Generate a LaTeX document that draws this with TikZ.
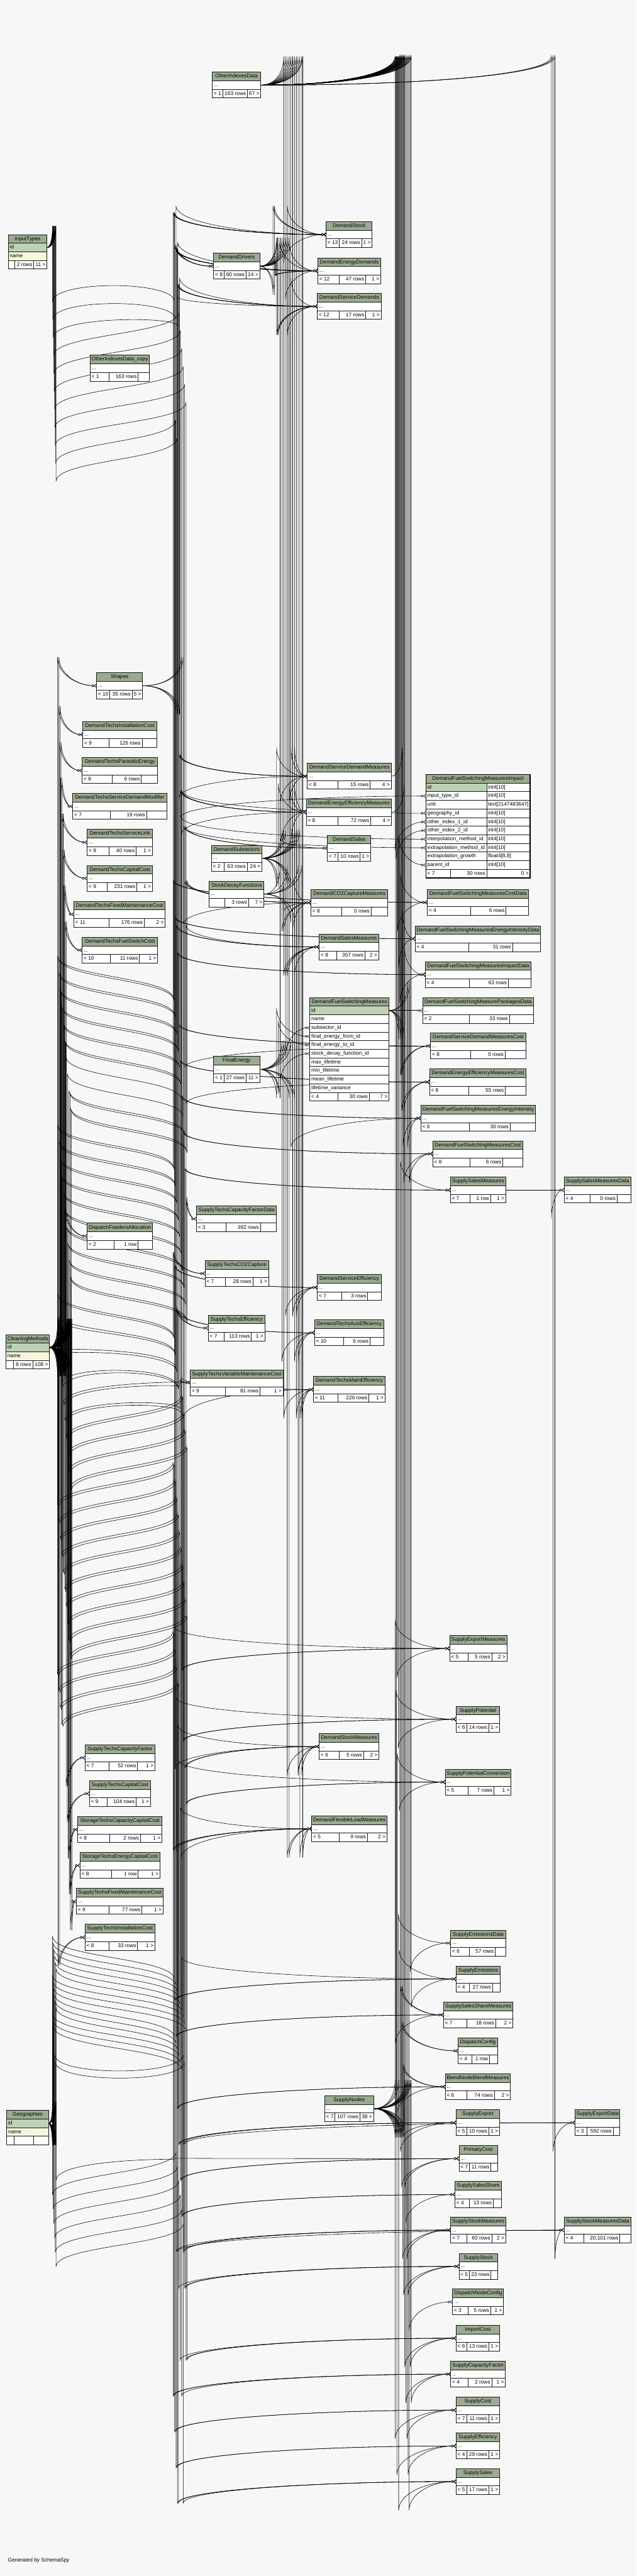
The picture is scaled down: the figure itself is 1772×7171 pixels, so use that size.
\documentclass[tikz,border=0pt]{standalone}
\usepackage{fontspec}
\setmainfont{Liberation Sans}
\usetikzlibrary{arrows.meta,calc,fit}
\pgfdeclarelayer{bg}
\pgfdeclarelayer{edges}
\pgfsetlayers{bg,edges,main}
\definecolor{hdr}{RGB}{155,171,146}
\definecolor{pk}{RGB}{190,209,184}
\definecolor{nm}{RGB}{245,247,221}
\definecolor{bgc}{RGB}{247,247,247}
\tikzset{
 txt/.style={font=\fontsize{7.3}{8}\selectfont,inner sep=0pt,outer sep=0pt,text height=5.3pt,text depth=1.4pt},
 rowbox/.style={fill=white,draw=none,inner sep=0pt,outer sep=0pt},
 border/.style={draw=black!90,line width=0.8pt},
 fkline/.style={draw=black,line width=0.5pt,-{Circle[fill=white,length=3.4pt,width=3.4pt,line width=0.5pt]Straight Barb[reversed,length=3pt,width=5pt,line width=0.5pt]}},
}
\def\tblparse#1,#2,#3,#4,#5\relax{\def\tx{#1}\def\tX{#2}\def\ty{#3}\def\ta{#4}\def\tb{#5}}
\newcommand\tbl[6]{\tblparse#2\relax
 \fill[hdr] (\tx,\ty) rectangle (\tX,\ty+24);
 \node[txt] (#1-t) at ({(\tx+\tX)/2},\ty+12) {#3};
 \node[rowbox,fit={(\tx,\ty+24)(\tX,\ty+48)}] (#1) {};
 \node[txt,anchor=west] (#1-d) at (\tx+4,\ty+36) {...};
 \fill[white] (\tx,\ty+48) rectangle (\tX,\ty+72);
 \node[txt,anchor=west] (#1-l) at (\tx+4,\ty+60) {#4};
 \node[txt,anchor=east] (#1-m) at (\tb-4,\ty+60) {#5};
 \node[txt,anchor=east] (#1-r) at (\tX-4,\ty+60) {#6};
 \draw[border] (\tx,\ty) rectangle (\tX,\ty+72) (\tx,\ty+24)--(\tX,\ty+24) (\tx,\ty+48)--(\tX,\ty+48) (\ta,\ty+48)--(\ta,\ty+72) (\tb,\ty+48)--(\tb,\ty+72);}
\newcommand\foot[5]{\tblparse#2\relax
 \fill[white] (\tx,\ty) rectangle (\tX,\ty+24);
 \node[txt,anchor=west] (#1-l) at (\tx+4,\ty+12) {#3};
 \node[txt,anchor=east] (#1-m) at (\tb-4,\ty+12) {#4};
 \node[txt,anchor=east] (#1-r) at (\tX-4,\ty+12) {#5};
 \draw[border] (\ta,\ty)--(\ta,\ty+24) (\tb,\ty)--(\tb,\ty+24);}
\newcommand\drow[6]{\node[rowbox,fill=#5,fit={(#2,#4)(#3,#4+24)}] (#1) {};
 \node[txt,anchor=west] (#1-n) at (#2+4,#4+12) {#6};
 \draw[border] (#2,#4)--(#3,#4);}
\newcommand\irow[5]{\drow{#1}{1186}{1476}{#2}{#3}{#4}\node[txt,anchor=west] (#1-ty) at (1359,#2+12) {#5};}
\newcommand\frow[4]{\drow{#1}{863}{1083}{#2}{#3}{#4}}
% one-channel connector: #1 channel x, #2 parent, #3 child
\newcommand\fk[3]{%
\draw[fkline] let \p1=(#2.east), \p2=(#3.west), \n1={(\y1>\y2)-(\y1<\y2)}, \n2={min(40,abs(\y1-\y2))} in
 (#2.east) .. controls ($(#2.east)!0.6!(#1,0 |- #2.east)$) and ($(#1,0 |- #2.east)+(0,{0.4*(\n1)*(\n2)})$) .. ($(#1,0 |- #2.east)+(0,{(\n1)*(\n2)})$)
 -- ($(#1,0 |- #3.west)-(0,{(\n1)*(\n2)})$)
 .. controls ($(#1,0 |- #3.west)-(0,{0.4*(\n1)*(\n2)})$) and ($(#3.west)!0.5!(#1,0 |- #3.west)$) .. (#3.west);}
\newcommand\fkk[3]{\fk{#1}{#2}{#3}\fk{#1+4}{#2}{#3}}
% two-channel connector: #1 first channel x, #2 crossing y, #3 second channel x, #4 parent, #5 child
\newcommand\fkw[5]{%
\draw[fkline] let \p1=(#4.east), \p2=(#5.west), \p3=(0,#2), \n1={(\y1>\y3)-(\y1<\y3)}, \n2={min(30,abs(\y1-\y3))}, \n3={(\y3>\y2)-(\y3<\y2)}, \n4={min(30,abs(\y3-\y2))} in
 (#4.east) .. controls ($(#4.east)!0.6!(#1,0 |- #4.east)$) and ($(#1,0 |- #4.east)+(0,{0.4*(\n1)*(\n2)})$) .. ($(#1,0 |- #4.east)+(0,{(\n1)*(\n2)})$)
 -- ($(#1,#2)-(0,{(\n1)*(\n2)})$)
 .. controls (#1,#2) and (#3,#2) .. ($(#3,#2)+(0,{(\n3)*(\n4)})$)
 -- ($(#3,0 |- #5.west)-(0,{(\n3)*(\n4)})$)
 .. controls ($(#3,0 |- #5.west)-(0,{0.4*(\n3)*(\n4)})$) and ($(#5.west)!0.5!(#3,0 |- #5.west)$) .. (#5.west);}
\newcommand\fkwk[5]{\fkw{#1}{#2}{#3}{#4}{#5}\fkw{#1+3}{#2+6}{#3+3}{#4}{#5}}
\begin{document}
\begin{tikzpicture}[x=0.5pt,y=-0.5pt]
\begin{pgfonlayer}{bg}
\fill[bgc] (0,0) rectangle (1772,7171);
\end{pgfonlayer}
\useasboundingbox (0,0) rectangle (1772,7171);

% ---------- detailed tables ----------
\fill[hdr] (23,653) rectangle (131,677);
\node[txt] (it-t) at (77,665) {InputTypes};
\drow{it}{23}{131}{677}{pk}{id}
\drow{it-name}{23}{131}{701}{nm}{name}
\foot{itf}{23,131,725,41,94}{}{2 rows}{11 >}
\draw[border] (23,653) rectangle (131,749) (23,725)--(131,725);

\fill[hdr] (17,3715) rectangle (138,3739);
\node[txt] (cm-t) at (77.5,3727) {CleaningMethods};
\drow{cm}{17}{138}{3739}{pk}{id}
\drow{cm-name}{17}{138}{3763}{nm}{name}
\foot{cmf}{17,138,3787,37,91}{}{8 rows}{108 >}
\draw[border] (17,3715) rectangle (138,3811) (17,3787)--(138,3787);

\fill[hdr] (19,5875) rectangle (135,5899);
\node[txt] (geo-t) at (77,5887) {Geographies};
\drow{geo}{19}{135}{5899}{pk}{id}
\drow{geo-name}{19}{135}{5923}{nm}{name}
\foot{geof}{19,135,5947,39,93}{}{}{}
\draw[border] (19,5875) rectangle (135,5971) (19,5947)--(135,5947);

\fill[hdr] (1186,2156) rectangle (1476,2180);
\node[txt] (dfsmi-t) at (1331,2168) {DemandFuelSwitchingMeasuresImpact};
\node[rowbox,fit={(1186,2180)(1476,2204)}] (dfsmi) {};
\fill[pk] (1186,2180) rectangle (1355,2204);
\node[txt,anchor=west] (dfsmi-n) at (1190,2192) {id};
\node[txt,anchor=west] (dfsmi-ty) at (1359,2192) {int4[10]};
\irow{dfsmi-in}{2204}{white}{input\_type\_id}{int4[10]}
\irow{dfsmi-unit}{2228}{white}{unit}{text[2147483647]}
\irow{dfsmi-geo}{2252}{white}{geography\_id}{int4[10]}
\irow{dfsmi-o1}{2276}{white}{other\_index\_1\_id}{int4[10]}
\irow{dfsmi-o2}{2300}{white}{other\_index\_2\_id}{int4[10]}
\irow{dfsmi-ip}{2324}{white}{interpolation\_method\_id}{int4[10]}
\irow{dfsmi-ep}{2348}{white}{extrapolation\_method\_id}{int4[10]}
\irow{dfsmi-eg}{2372}{white}{extrapolation\_growth}{float4[8,8]}
\irow{dfsmi-par}{2396}{white}{parent\_id}{int4[10]}
\foot{dfsmif}{1186,1476,2420,1254,1355}{< 7}{30 rows}{0 >}
\draw[border] (1186,2420)--(1476,2420) (1355,2180)--(1355,2420) (1186,2180)--(1476,2180);
\draw[draw=black,line width=1.6pt] (1186,2156) rectangle (1476,2444);

\fill[hdr] (863,2777) rectangle (1083,2801);
\node[txt] (dfsm-t) at (973,2789) {DemandFuelSwitchingMeasures};
\frow{dfsm}{2801}{pk}{id}
\frow{dfsm-name}{2825}{white}{name}
\frow{dfsm-sub}{2849}{white}{subsector\_id}
\frow{dfsm-from}{2873}{white}{final\_energy\_from\_id}
\frow{dfsm-to}{2897}{white}{final\_energy\_to\_id}
\frow{dfsm-sdf}{2921}{white}{stock\_decay\_function\_id}
\frow{dfsm-max}{2945}{white}{max\_lifetime}
\frow{dfsm-min}{2969}{white}{min\_lifetime}
\frow{dfsm-mean}{2993}{white}{mean\_lifetime}
\frow{dfsm-var}{3017}{white}{lifetime\_variance}
\foot{dfsmf}{863,1083,3041,941,1028}{< 4}{30 rows}{7 >}
\draw[border] (863,2777) rectangle (1083,3065) (863,3041)--(1083,3041);

% ---------- collapsed tables ----------
\tbl{oid}{591,726,201,620,689}{OtherIndexesData}{< 1}{163 rows}{67 >}
\tbl{dst}{908,1036,617,945,1007}{DemandStock}{< 13}{24 rows}{1 >}
\tbl{ddr}{595,723,705,624,685}{DemandDrivers}{< 8}{60 rows}{14 >}
\tbl{ded}{885,1060,718,945,1018}{DemandEnergyDemands}{< 12}{47 rows}{1 >}
\tbl{dsd}{884,1061,817,945,1018}{DemandServiceDemands}{< 12}{17 rows}{1 >}
\tbl{oidc}{251,416,989,304,385}{OtherIndexesData\_copy}{< 1}{163 rows}{}
\tbl{shp}{269,397,1873,306,368}{Shapes}{< 10}{35 rows}{5 >}
\tbl{dtic}{231,436,2009,304,396}{DemandTechsInstallationCost}{< 9}{126 rows}{}
\tbl{dtpe}{229,439,2109,313,393}{DemandTechsParasiticEnergy}{< 8}{6 rows}{}
\tbl{dtsdm}{203,464,2209,308,408}{DemandTechsServiceDemandModifier}{< 7}{19 rows}{}
\tbl{dtsl}{243,424,2309,303,379}{DemandTechsServiceLink}{< 9}{40 rows}{1 >}
\tbl{dtcc}{243,424,2409,298,381}{DemandTechsCapitalCost}{< 9}{231 rows}{1 >}
\tbl{dtfmc}{206,460,2509,303,401}{DemandTechsFixedMaintenanceCost}{< 11}{176 rows}{2 >}
\tbl{dtfsc}{229,439,2609,307,388}{DemandTechsFuelSwitchCost}{< 10}{11 rows}{1 >}
\tbl{dfa}{243,425,3405,317,385}{DispatchFeedersAllocation}{< 2}{1 row}{}
\tbl{dsdm}{856,1089,2125,941,1031}{DemandServiceDemandMeasures}{< 8}{15 rows}{4 >}
\tbl{deem}{853,1090,2225,941,1032}{DemandEnergyEfficiencyMeasures}{< 8}{72 rows}{4 >}
\tbl{dsal}{912,1032,2325,941,1003}{DemandSales}{< 7}{10 rows}{1 >}
\tbl{dsub}{589,729,2353,624,688}{DemandSubsectors}{< 2}{63 rows}{24 >}
\tbl{sdf}{582,735,2453,625,692}{StockDecayFunctions}{}{3 rows}{7 >}
\tbl{dco2}{866,1079,2477,952,1033}{DemandCO2CaptureMeasures}{< 8}{0 rows}{}
\tbl{dsm}{889,1054,2600,937,1016}{DemandSalesMeasures}{< 8}{357 rows}{2 >}
\tbl{dfsmcd}{1190,1472,2476,1311,1409}{DemandFuelSwitchingMeasuresCostData}{< 4}{6 rows}{}
\tbl{dfsmeid}{1156,1505,2577,1305,1427}{DemandFuelSwitchingMeasuresEnergyIntensityData}{< 4}{31 rows}{}
\tbl{dfsmid}{1184,1479,2677,1307,1415}{DemandFuelSwitchingMeasuresImpactData}{< 4}{63 rows}{}
\tbl{dfsmpd}{1177,1485,2777,1307,1418}{DemandFuelSwitchingMeasurePackagesData}{< 2}{33 rows}{}
\tbl{dsdmc}{1199,1464,2876,1311,1406}{DemandServiceDemandMeasuresCost}{< 8}{0 rows}{}
\tbl{deemc}{1196,1465,2976,1305,1407}{DemandEnergyEfficiencyMeasuresCost}{< 8}{55 rows}{}
\tbl{dfsmei}{1172,1491,3077,1307,1420}{DemandFuelSwitchingMeasuresEnergyIntensity}{< 6}{30 rows}{}
\tbl{dfsmc}{1205,1456,3176,1309,1400}{DemandFuelSwitchingMeasuresCost}{< 8}{6 rows}{}
\tbl{ssm}{1254,1408,3277,1308,1366}{SupplySalesMeasures}{< 7}{1 row}{1 >}
\tbl{ssmd}{1571,1757,3277,1643,1718}{SupplySalesMeasuresData}{< 4}{0 rows}{}
\tbl{fe}{595,723,2941,624,685}{FinalEnergy}{< 1}{27 rows}{11 >}
\tbl{stcfd}{547,770,3357,629,725}{SupplyTechsCapacityFactorData}{< 3}{392 rows}{}
\tbl{stco2}{571,748,3509,628,704}{SupplyTechsCO2Capture}{< 7}{28 rows}{1 >}
\tbl{steff}{580,737,3661,624,700}{SupplyTechsEfficiency}{< 7}{113 rows}{1 >}
\tbl{stvmc}{530,788,3813,628,724}{SupplyTechsVariableMaintenanceCost}{< 9}{81 rows}{1 >}
\tbl{dse}{884,1061,3548,952,1024}{DemandServiceEfficiency}{< 7}{3 rows}{}
\tbl{dtae}{876,1069,3674,956,1030}{DemandTechsAuxEfficiency}{< 10}{6 rows}{}
\tbl{dtme}{873,1072,3832,941,1027}{DemandTechsMainEfficiency}{< 11}{226 rows}{1 >}
\tbl{stcf}{237,431,4857,303,383}{SupplyTechsCapacityFactor}{< 7}{52 rows}{1 >}
\tbl{stcc}{249,419,4957,298,379}{SupplyTechsCapitalCost}{< 9}{104 rows}{1 >}
\tbl{stocc}{217,451,5057,306,391}{StorageTechsCapacityCapitalCost}{< 8}{2 rows}{1 >}
\tbl{stecc}{223,445,5157,311,385}{StorageTechsEnergyCapitalCost}{< 8}{1 row}{1 >}
\tbl{stfmc}{213,454,5257,303,395}{SupplyTechsFixedMaintenanceCost}{< 9}{77 rows}{1 >}
\tbl{stic}{237,431,5357,303,383}{SupplyTechsInstallationCost}{< 8}{33 rows}{1 >}
\tbl{sem}{1252,1411,4553,1304,1369}{SupplyExportMeasures}{< 5}{5 rows}{2 >}
\tbl{spot}{1270,1391,4750,1300,1361}{SupplyPotential}{< 6}{14 rows}{1 >}
\tbl{spc}{1240,1423,4925,1304,1375}{SupplyPotentialConversion}{< 5}{7 rows}{1 >}
\tbl{dstm}{889,1055,4826,945,1012}{DemandStockMeasures}{< 6}{5 rows}{2 >}
\tbl{dflm}{868,1077,5055,945,1023}{DemandFlexibleLoadMeasures}{< 5}{9 rows}{2 >}
\tbl{sed}{1255,1408,5373,1307,1379}{SupplyEmissionsData}{< 6}{57 rows}{}
\tbl{semi}{1270,1392,5473,1307,1371}{SupplyEmissions}{< 4}{27 rows}{}
\tbl{sssm}{1235,1428,5573,1300,1380}{SupplySalesShareMeasures}{< 7}{18 rows}{2 >}
\tbl{dc}{1276,1385,5673,1313,1363}{DispatchConfig}{< 4}{1 row}{}
\tbl{bnbm}{1240,1421,5773,1300,1376}{BlendNodeBlendMeasures}{< 6}{74 rows}{2 >}
\tbl{sn}{904,1040,5834,933,1002}{SupplyNodes}{< 7}{107 rows}{38 >}
\tbl{sexp}{1270,1391,5873,1300,1361}{SupplyExport}{< 5}{10 rows}{1 >}
\tbl{sexd}{1601,1726,5873,1634,1707}{SupplyExportData}{< 3}{592 rows}{}
\tbl{pc}{1278,1385,5973,1307,1367}{PrimaryCost}{< 7}{11 rows}{}
\tbl{sss}{1267,1396,6073,1307,1373}{SupplySalesShare}{< 4}{13 rows}{}
\tbl{sstm}{1255,1408,6172,1300,1369}{SupplyStockMeasures}{< 7}{60 rows}{2 >}
\tbl{sstmd}{1571,1757,6172,1625,1726}{SupplyStockMeasuresData}{< 4}{20,101 rows}{}
\tbl{sstk}{1278,1385,6273,1307,1367}{SupplyStock}{< 5}{23 rows}{}
\tbl{dnc}{1260,1402,6372,1304,1366}{DispatchNodeConfig}{< 3}{5 rows}{1 >}
\tbl{ic}{1270,1391,6473,1300,1361}{ImportCost}{< 6}{13 rows}{1 >}
\tbl{scf}{1255,1407,6573,1304,1369}{SupplyCapacityFactor}{< 4}{2 rows}{1 >}
\tbl{scost}{1270,1391,6673,1300,1361}{SupplyCost}{< 7}{11 rows}{1 >}
\tbl{seff}{1270,1391,6773,1300,1361}{SupplyEfficiency}{< 4}{29 rows}{1 >}
\tbl{ssal}{1270,1391,6872,1300,1361}{SupplySales}{< 5}{17 rows}{1 >}

\node[txt,anchor=west] (gen) at (22,7128) {Generated by SchemaSpy};

% ---------- connectors ----------
\begin{pgfonlayer}{edges}
% InputTypes
\fkw{146}{780}{486}{it}{dst}\fkw{147}{830}{490}{it}{ded}\fkw{148}{880}{494}{it}{dsd}
\fkw{149}{930}{498}{it}{dsdm}\fkw{150}{980}{502}{it}{dfsmi-in}\fkw{151}{1030}{506}{it}{deem}
\fkw{152}{1080}{510}{it}{dco2}\fkw{153}{1130}{514}{it}{dsdmc}\fkw{154}{1180}{518}{it}{deemc}
\fkw{155}{1230}{488}{it}{dstm}\fkw{156}{1280}{492}{it}{dflm}
% CleaningMethods -> column B
\fkk{160}{cm}{shp}\fkk{163}{cm}{dtic}\fkk{166}{cm}{dtpe}\fkk{169}{cm}{dtsdm}\fkk{172}{cm}{dtsl}\fkk{175}{cm}{dtcc}
\fkk{178}{cm}{dtfmc}\fkk{181}{cm}{dtfsc}\fkk{184}{cm}{stcf}\fkk{187}{cm}{stcc}\fkk{190}{cm}{stocc}\fkk{193}{cm}{stecc}
\fkk{196}{cm}{stfmc}\fkk{162}{cm}{stic}\fkk{180}{cm}{dfa}
% CleaningMethods -> further columns
\fkwk{160}{2720}{482}{cm}{dst}\fkwk{164}{2767}{486}{cm}{ddr}\fkwk{168}{2814}{490}{cm}{ded}
\fkwk{172}{2861}{494}{cm}{dsd}\fkwk{176}{2908}{498}{cm}{dsdm}\fkwk{180}{2955}{502}{cm}{deem}
\fkw{184}{3002}{506}{cm}{dfsmi-ip}\fkw{188}{3049}{510}{cm}{dfsmi-ep}\fkwk{192}{3096}{514}{cm}{dsal}
\fkwk{196}{3143}{518}{cm}{dco2}\fkwk{160}{3190}{482}{cm}{dfsmcd}\fkwk{164}{3237}{486}{cm}{dfsmeid}
\fkwk{168}{3284}{490}{cm}{dsm}\fkwk{172}{3331}{494}{cm}{dfsmid}\fkwk{176}{3378}{498}{cm}{dsdmc}
\fkwk{180}{3425}{502}{cm}{deemc}\fkwk{184}{3472}{506}{cm}{dfsmei}\fkwk{188}{3519}{510}{cm}{dfsmc}
\fkwk{192}{3566}{514}{cm}{ssm}\fkwk{196}{3613}{518}{cm}{stcfd}\fkwk{160}{3660}{482}{cm}{stco2}
\fkwk{164}{3707}{486}{cm}{dse}\fkwk{168}{3754}{490}{cm}{steff}\fkwk{172}{3801}{494}{cm}{dtae}
\fkwk{176}{3848}{498}{cm}{stvmc}\fkwk{180}{3895}{502}{cm}{dtme}\fkwk{184}{3942}{506}{cm}{sem}
\fkwk{188}{3989}{510}{cm}{spot}\fkwk{192}{4036}{514}{cm}{dstm}\fkwk{196}{4083}{518}{cm}{spc}
\fkwk{160}{4130}{482}{cm}{dflm}\fkwk{164}{4177}{486}{cm}{semi}\fkwk{168}{4224}{490}{cm}{sssm}
\fkwk{172}{4271}{494}{cm}{bnbm}\fkwk{176}{4318}{498}{cm}{sexp}\fkwk{180}{4365}{502}{cm}{pc}
\fkwk{184}{4412}{506}{cm}{sss}\fkwk{188}{4459}{510}{cm}{sstm}\fkwk{192}{4506}{514}{cm}{sstk}
\fkwk{196}{4553}{518}{cm}{ic}\fkwk{160}{4600}{482}{cm}{scf}\fkwk{164}{4647}{486}{cm}{scost}
\fkwk{168}{4694}{490}{cm}{seff}\fkwk{172}{4741}{494}{cm}{ssal}
% Geographies
\fkw{146}{5450}{486}{geo}{dst}\fkw{148}{5468}{490}{geo}{ddr}\fkw{150}{5486}{494}{geo}{ded}
\fkw{152}{5504}{498}{geo}{dsd}\fkw{154}{5522}{502}{geo}{dsdm}\fkw{156}{5540}{506}{geo}{deem}
\fkw{146}{5558}{510}{geo}{dfsmi-geo}\fkw{148}{5576}{514}{geo}{dco2}\fkw{150}{5594}{518}{geo}{dsm}
\fkw{152}{5612}{486}{geo}{sem}\fkw{154}{5630}{490}{geo}{spot}\fkw{156}{5648}{494}{geo}{dstm}
\fkw{146}{5666}{498}{geo}{spc}\fkw{148}{5684}{502}{geo}{dflm}\fkw{150}{5702}{506}{geo}{semi}
\fkw{152}{5780}{510}{geo}{sexp}\fkw{154}{5800}{514}{geo}{sexd}
\fkw{156}{6010}{486}{geo}{pc}\fkw{146}{6050}{490}{geo}{sstm}\fkw{148}{6090}{494}{geo}{sstmd}
\fkw{150}{6130}{498}{geo}{sstk}\fkw{152}{6170}{502}{geo}{ic}\fkw{154}{6210}{506}{geo}{scf}
\fkw{156}{6250}{510}{geo}{ssal}
% OtherIndexesData
\fk{790}{oid}{dst}\fk{795}{oid}{ded}\fk{800}{oid}{dsd}\fk{805}{oid}{dsdm}\fk{810}{oid}{deem}\fk{815}{oid}{dco2}
\fk{820}{oid}{dsm}\fk{825}{oid}{dse}\fk{830}{oid}{dtae}\fk{835}{oid}{dtme}\fk{840}{oid}{dstm}\fk{843}{oid}{dflm}
\fk{1100}{oid}{dfsmi-o1}\fk{1103}{oid}{dfsmi-o2}\fk{1106}{oid}{sem}\fk{1109}{oid}{spot}\fk{1112}{oid}{spc}
\fk{1115}{oid}{sexp}\fk{1118}{oid}{pc}\fk{1121}{oid}{sstm}\fk{1124}{oid}{sstk}\fk{1127}{oid}{ic}
\fk{1130}{oid}{scf}\fk{1133}{oid}{scost}\fk{1136}{oid}{seff}\fk{1139}{oid}{ssal}\fk{1142}{oid}{sed}
\fk{1145}{oid}{semi}\fk{1101}{oid}{sssm}\fk{1104}{oid}{bnbm}\fk{1107}{oid}{dfsmcd}\fk{1110}{oid}{dfsmeid}
\fk{1113}{oid}{dfsmid}\fk{1116}{oid}{dsdmc}\fk{1119}{oid}{deemc}\fk{1122}{oid}{dfsmei}\fk{1125}{oid}{dfsmc}
\fk{1535}{oid}{ssmd}\fk{1540}{oid}{sexd}\fk{1545}{oid}{sstmd}
% DemandDrivers
\fkk{760}{ddr}{dst}\fkk{765}{ddr}{ded}\fk{768}{ddr}{ded}\fkk{770}{ddr}{dsd}\fk{773}{ddr}{dsd}\fk{780}{ddr}{dsdm}
\fk{785}{ddr}{deem}\fk{790}{ddr}{dco2}\fk{795}{ddr}{dsm}\fk{800}{ddr}{dstm}\fk{805}{ddr}{dflm}
% DemandSubsectors
\fk{770}{dsub}{dsdm}\fk{775}{dsub}{deem}\fk{780}{dsub}{dsal}\fk{785}{dsub}{dco2}\fk{790}{dsub}{dsm}\fk{795}{dsub}{dfsm-sub}
\fk{800}{dsub}{dst}\fk{805}{dsub}{ded}\fk{810}{dsub}{dsd}\fk{815}{dsub}{dse}\fk{820}{dsub}{dtae}\fk{825}{dsub}{dtme}
\fk{830}{dsub}{dstm}\fk{835}{dsub}{dflm}
% StockDecayFunctions
\fk{780}{sdf}{dfsm-sdf}\fk{790}{sdf}{dco2}\fk{800}{sdf}{dsm}\fk{810}{sdf}{dsdm}\fk{820}{sdf}{deem}\fk{830}{sdf}{dstm}\fk{840}{sdf}{dtme}
% FinalEnergy
\fk{770}{fe}{dfsm-from}\fk{775}{fe}{dfsm-to}\fk{780}{fe}{ded}\fk{785}{fe}{dtae}\fk{790}{fe}{dtme}\fk{795}{fe}{dse}
\fk{800}{fe}{dflm}\fk{805}{fe}{deem}\fk{810}{fe}{dfsmei}\fk{815}{fe}{dco2}\fk{820}{fe}{dsdm}
% Shapes
\fk{490}{shp}{dst}\fk{495}{shp}{ded}\fk{500}{shp}{dsd}\fk{505}{shp}{dflm}\fk{510}{shp}{dtme}
% DemandFuelSwitchingMeasures and measures
\fk{1110}{dfsm}{dfsmi-par}\fk{1115}{dfsm}{dfsmcd}\fk{1120}{dfsm}{dfsmeid}\fk{1125}{dfsm}{dfsmid}\fk{1130}{dfsm}{dfsmpd}
\fk{1135}{dfsm}{dfsmei}\fk{1140}{dfsm}{dfsmc}
\fk{1120}{dsdm}{dsdmc}\fk{1125}{deem}{deemc}
% SupplyNodes
\fk{1100}{sn}{sem}\fk{1103}{sn}{spot}\fk{1106}{sn}{spc}\fk{1109}{sn}{sed}\fk{1112}{sn}{semi}\fkk{1115}{sn}{sssm}
\fkk{1118}{sn}{dc}\fkk{1121}{sn}{bnbm}\fk{1124}{sn}{sexp}\fk{1127}{sn}{pc}\fk{1130}{sn}{sss}\fk{1133}{sn}{sstm}
\fk{1136}{sn}{sstk}\fk{1139}{sn}{dnc}\fk{1142}{sn}{ic}\fk{1145}{sn}{scf}\fk{1100}{sn}{scost}\fk{1105}{sn}{seff}
\fk{1110}{sn}{ssal}\fk{1115}{sn}{ssm}
% supply data tables
\fk{1490}{ssm}{ssmd}\fk{1500}{sexp}{sexd}\fk{1490}{sstm}{sstmd}
\end{pgfonlayer}
\end{tikzpicture}
\end{document}
